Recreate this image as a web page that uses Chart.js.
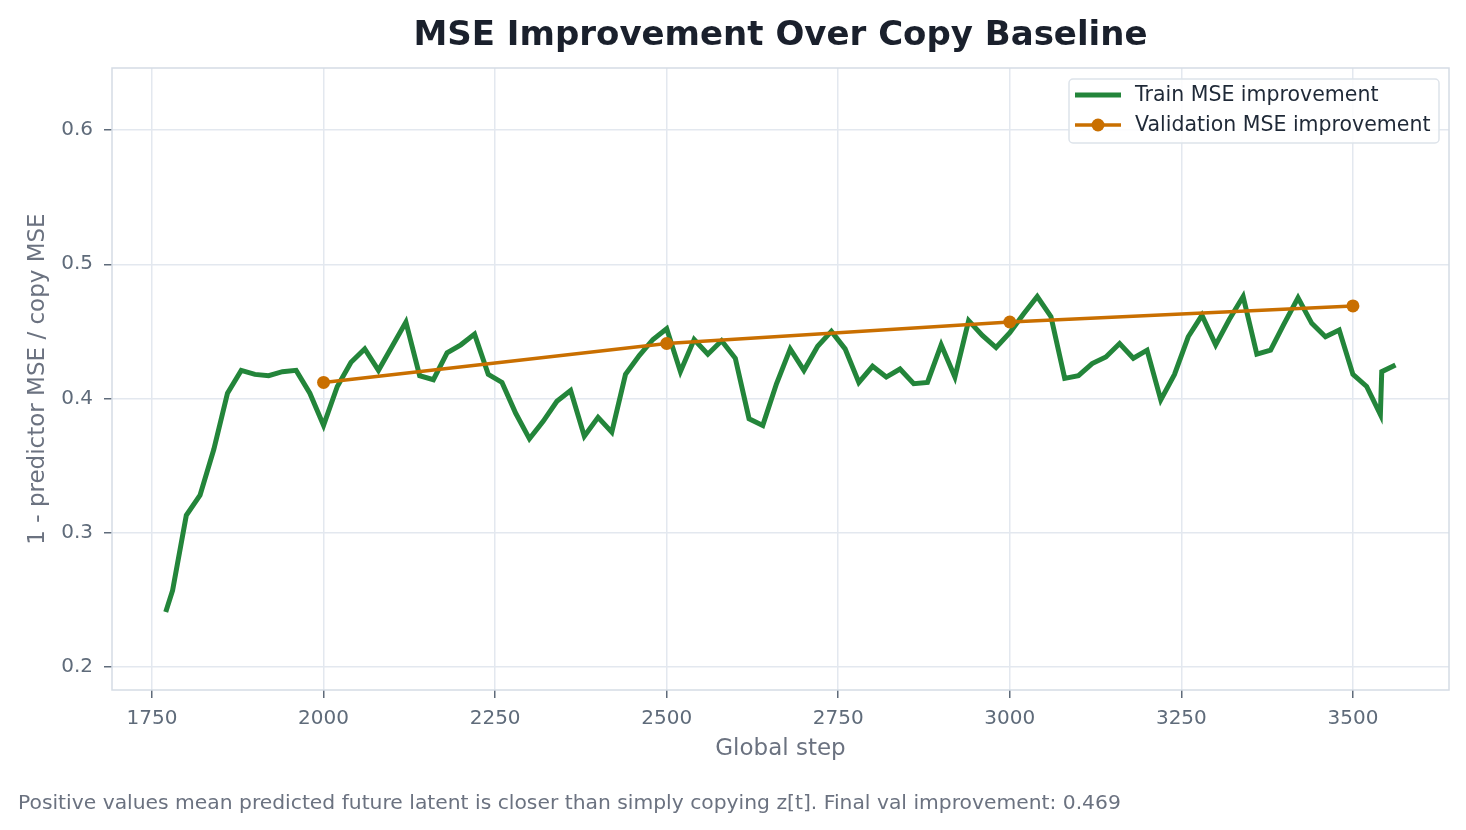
<!DOCTYPE html>
<html>
<head>
<meta charset="utf-8">
<script src="https://cdn.jsdelivr.net/npm/chart.js@4"></script>
<style>
  body { margin: 0; background: #fff; font-family: "DejaVu Sans", sans-serif; }
  #wrap { position: relative; width: 1466px; height: 830px; }
  #title { position: absolute; left: 112px; width: 1337px; top: 12px; text-align: center;
           font-weight: bold; font-size: 34px; color: #1a202c; line-height: 42px; }
  #note { position: absolute; left: 18px; top: 790px; font-size: 20.3px; color: #6b7280; line-height: 24px; white-space: nowrap; }
</style>
</head>
<body>
<div id="wrap">
  <canvas id="chart"></canvas>
  <div id="title">MSE Improvement Over Copy Baseline</div>
  <div id="note">Positive values mean predicted future latent is closer than simply copying z[t]. Final val improvement: 0.469</div>
</div>
<script>
// data
const trainSteps = [1770, 1780, 1800, 1820, 1840, 1860, 1880, 1900, 1920, 1940, 1960, 1980,
  2000, 2020, 2040, 2060, 2080, 2100, 2120, 2140, 2160, 2180, 2200, 2220, 2240, 2260, 2280,
  2300, 2320, 2340, 2360, 2380, 2400, 2420, 2440, 2460, 2480, 2500, 2520, 2540, 2560, 2580,
  2600, 2620, 2640, 2660, 2680, 2700, 2720, 2740, 2760, 2780, 2800, 2820, 2840, 2860, 2880,
  2900, 2920, 2940, 2960, 2980, 3000, 3020, 3040, 3060, 3080, 3100, 3120, 3140, 3160, 3180,
  3200, 3220, 3240, 3260, 3280, 3300, 3320, 3340, 3360, 3380, 3400, 3420, 3440, 3460, 3480,
  3500, 3520, 3540, 3542, 3562];
const trainValues = [0.241, 0.257, 0.313, 0.328, 0.362, 0.404, 0.421, 0.418, 0.417, 0.420, 0.421, 0.404,
  0.380, 0.409, 0.427, 0.437, 0.421, 0.439, 0.457, 0.417, 0.414, 0.434, 0.440, 0.448, 0.418, 0.412, 0.389,
  0.370, 0.383, 0.398, 0.406, 0.372, 0.386, 0.375, 0.418, 0.432, 0.444, 0.452, 0.420, 0.444, 0.433, 0.443,
  0.430, 0.385, 0.380, 0.411, 0.437, 0.421, 0.439, 0.450, 0.437, 0.412, 0.424, 0.416, 0.422, 0.411, 0.412,
  0.440, 0.416, 0.458, 0.447, 0.438, 0.449, 0.463, 0.476, 0.461, 0.415, 0.417, 0.426, 0.431, 0.441, 0.430,
  0.436, 0.399, 0.418, 0.446, 0.462, 0.440, 0.459, 0.476, 0.433, 0.436, 0.456, 0.475, 0.456, 0.446, 0.451,
  0.418, 0.409, 0.388, 0.420, 0.425];
const valSteps = [2000, 2500, 3000, 3500];
const valValues = [0.412, 0.441, 0.457, 0.469];

const xTicks = [1750, 2000, 2250, 2500, 2750, 3000, 3250, 3500];
const yTicks = [0.2, 0.3, 0.4, 0.5, 0.6];

const GREEN = '#23853a';
const ORANGE = '#c96f00';
const GRID = '#e3e8ef';
const TICK = '#5f6b7a';

// box round the plot plus the legend inside the top right corner
const framePlugin = {
  id: 'frame',
  afterDatasetsDraw(chart) {
    const c = chart.ctx, a = chart.chartArea;
    c.save();
    c.strokeStyle = '#d5dce5';
    c.lineWidth = 1.5;
    c.strokeRect(a.left, a.top, a.right - a.left, a.bottom - a.top);

    // legend
    const bx = 1069, by = 79, bw = 370, bh = 64;
    c.beginPath();
    c.roundRect(bx, by, bw, bh, 4);
    c.fillStyle = 'rgba(255,255,255,0.85)';
    c.fill();
    c.strokeStyle = '#dde3ea';
    c.lineWidth = 1.5;
    c.stroke();

    c.lineCap = 'butt';
    c.strokeStyle = GREEN;
    c.lineWidth = 5;
    c.beginPath(); c.moveTo(1075, 95); c.lineTo(1121, 95); c.stroke();
    c.strokeStyle = ORANGE;
    c.lineWidth = 3.5;
    c.beginPath(); c.moveTo(1075, 125); c.lineTo(1121, 125); c.stroke();
    c.fillStyle = ORANGE;
    c.beginPath(); c.arc(1098, 125, 6.5, 0, Math.PI * 2); c.fill();

    c.fillStyle = '#1f2937';
    c.font = '20.5px "DejaVu Sans"';
    c.textBaseline = 'middle';
    c.fillText('Train MSE improvement', 1135, 96);
    c.fillText('Validation MSE improvement', 1135, 126);
    c.restore();
  }
};

const ctx = document.getElementById('chart').getContext('2d');

const data = {
  datasets: [{
    label: 'Train MSE improvement',
    data: trainSteps.map((s, i) => ({ x: s, y: trainValues[i] })),
    borderColor: GREEN,
    borderWidth: 5,
    pointRadius: 0,
    tension: 0,
    order: 1,
  }, {
    label: 'Validation MSE improvement',
    data: valSteps.map((s, i) => ({ x: s, y: valValues[i] })),
    borderColor: ORANGE,
    backgroundColor: ORANGE,
    borderWidth: 3.5,
    pointRadius: 6.5,
    pointBorderWidth: 0,
    tension: 0,
    order: 0,
  }]
};

const config = {
  type: 'line',
  data: data,
  plugins: [framePlugin],
  options: {
    responsive: true,
    maintainAspectRatio: false,
    animation: false,
    layout: { padding: { top: 68, left: 0, right: 17, bottom: 60 } },
    plugins: {
      legend: { display: false },
      tooltip: { enabled: false },
    },
    scales: {
      x: {
        type: 'linear',
        min: 1691.7,
        max: 3640,
        afterFit: (s) => { s.height = 80; },
        afterBuildTicks: (s) => { s.ticks = xTicks.map(v => ({ value: v })); },
        grid: { color: GRID, lineWidth: 1.5, tickLength: 8, tickColor: TICK, tickWidth: 1.5 },
        border: { display: false },
        ticks: {
          color: TICK,
          padding: 9,
          maxRotation: 0,
          font: { family: 'DejaVu Sans', size: 20 },
          callback: (v) => String(v),
        },
        title: {
          display: true,
          text: 'Global step',
          color: '#6b7280',
          font: { family: 'DejaVu Sans', size: 23 },
          padding: { top: 0, bottom: 7 },
        },
      },
      y: {
        min: 0.1829,
        max: 0.6462,
        afterFit: (s) => { s.width = 112; },
        afterBuildTicks: (s) => { s.ticks = yTicks.map(v => ({ value: v })); },
        grid: { color: GRID, lineWidth: 1.5, tickLength: 8, tickColor: TICK, tickWidth: 1.5 },
        border: { display: false },
        ticks: {
          color: TICK,
          padding: 11,
          font: { family: 'DejaVu Sans', size: 20 },
          callback: (v) => v.toFixed(1),
        },
        title: {
          display: true,
          text: '1 - predictor MSE / copy MSE',
          color: '#6b7280',
          font: { family: 'DejaVu Sans', size: 23 },
          padding: { top: 24, bottom: 0 },
        },
      },
    },
  },
};

const myChart = new Chart(ctx, config);
</script>
</body>
</html>
